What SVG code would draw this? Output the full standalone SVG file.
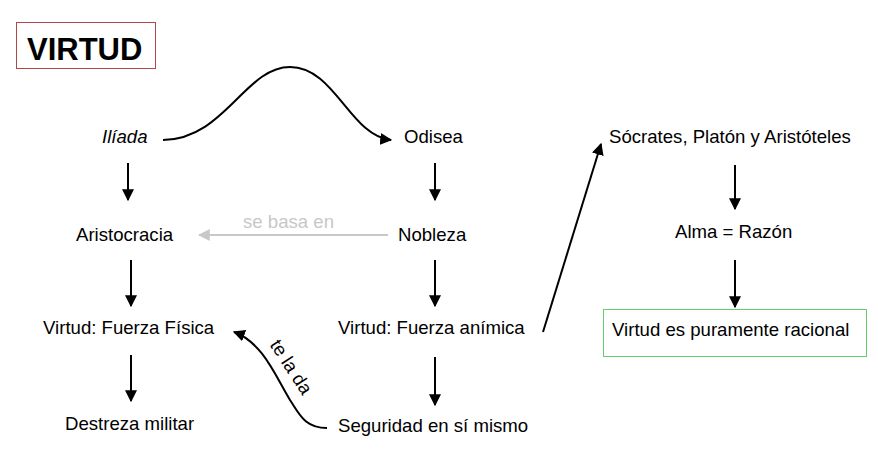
<svg xmlns="http://www.w3.org/2000/svg" width="878" height="452" viewBox="0 0 878 452">
<style>
text{font-family:"Liberation Sans",Arial,sans-serif;font-size:18.6px;fill:#000}
.c{fill:none;stroke:#000;stroke-width:2}
.g{fill:none;stroke:#c8c8c8;stroke-width:2}
</style>
<defs>
<marker id="a" viewBox="0 0 10 10" refX="9" refY="5" markerWidth="6" markerHeight="6" markerUnits="strokeWidth" orient="auto"><path d="M0,0L10,5L0,10z" fill="#000"/></marker>
<marker id="ag" viewBox="0 0 10 10" refX="9" refY="5" markerWidth="6" markerHeight="6" markerUnits="strokeWidth" orient="auto"><path d="M0,0L10,5L0,10z" fill="#c8c8c8"/></marker>
</defs>
<rect width="878" height="452" fill="#fff"/>
<g id="title"><rect x="16.5" y="22.5" width="139" height="46" fill="none" stroke="#b04848" stroke-width="1"/><text x="27" y="60" style="font-size:31px;font-weight:bold">VIRTUD</text></g>
<g id="iliada"><text x="102" y="143" font-style="italic">Ilíada</text></g>
<g id="odisea"><text x="404" y="143">Odisea</text></g>
<g id="aristocracia"><text x="76" y="241">Aristocracia</text></g>
<g id="nobleza"><text x="398" y="241">Nobleza</text></g>
<g id="fisica"><text x="43" y="334">Virtud: Fuerza Física</text></g>
<g id="animica"><text x="338" y="334">Virtud: Fuerza anímica</text></g>
<g id="destreza"><text x="65" y="430">Destreza militar</text></g>
<g id="seguridad"><text x="338" y="432">Seguridad en sí mismo</text></g>
<g id="socrates"><text x="609" y="143">Sócrates, Platón y Aristóteles</text></g>
<g id="alma"><text x="675" y="238">Alma = Razón</text></g>
<g id="racional"><rect x="603.5" y="309.5" width="263" height="47" fill="none" stroke="#66cc66" stroke-width="1"/><text x="612" y="336">Virtud es puramente racional</text></g>
<g id="connectors">
<path class="c" d="M163,140 C225,139 245,67 290,67 C335,67 350,136 391,140" marker-end="url(#a)"/>
<path class="c" d="M128,163V200" marker-end="url(#a)"/>
<path class="c" d="M435,163V200" marker-end="url(#a)"/>
<path class="g" d="M388,235H199" marker-end="url(#ag)"/>
<text x="243" y="228" style="fill:#c8c8c8">se basa en</text>
<path class="c" d="M131,260V306" marker-end="url(#a)"/>
<path class="c" d="M435,260V306" marker-end="url(#a)"/>
<path class="c" d="M131,355V401" marker-end="url(#a)"/>
<path class="c" d="M435,357V405" marker-end="url(#a)"/>
<path class="c" d="M327,428 C305,428 300,415 290,400 C275,375 262,342 234,332" marker-end="url(#a)"/>
<text transform="rotate(57 291 367)" x="291" y="373" text-anchor="middle">te la da</text>
<path class="c" d="M543,332L601,144" marker-end="url(#a)"/>
<path class="c" d="M735,165V209" marker-end="url(#a)"/>
<path class="c" d="M735,260V307" marker-end="url(#a)"/>
</g>
</svg>
